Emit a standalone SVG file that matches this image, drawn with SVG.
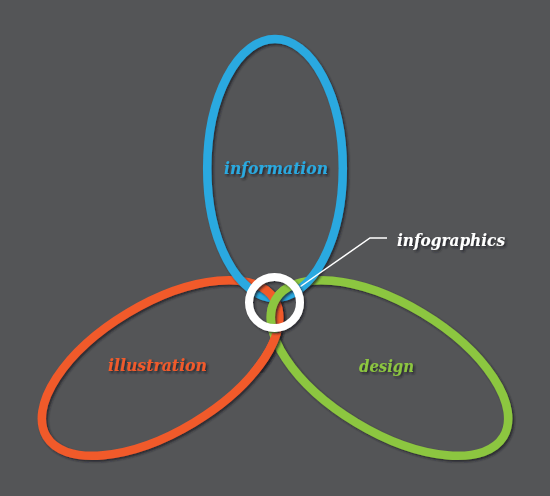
<svg xmlns="http://www.w3.org/2000/svg" width="550" height="496" viewBox="0 0 550 496">
  <defs>
    <filter id="sh" x="-10%" y="-10%" width="130%" height="130%">
      <feDropShadow dx="1.8" dy="1.8" stdDeviation="0.9" flood-color="#1e1e20" flood-opacity="0.75"/>
    </filter>
    <clipPath id="inCircle"><circle cx="274.5" cy="302.5" r="22"/></clipPath>
    <clipPath id="bottomCross"><rect x="250" y="333" width="50" height="40"/></clipPath>
    <style>
      .ring { fill: none; stroke-width: 8.5; filter: url(#sh); }
      .blue { stroke: #29a9e0; }
      .orange { stroke: #f15a2b; }
      .green { stroke: #8cc63f; }
      .lbl { font-family: "DejaVu Serif", "Liberation Serif", serif; font-style: italic; font-weight: bold; font-size: 16px; filter: url(#sh); }
    </style>
    <ellipse id="eBlue" cx="275" cy="168.5" rx="67.8" ry="129.5"/>
    <ellipse id="eOrange" cx="0" cy="0" rx="133" ry="64" transform="translate(160.5 368) rotate(-31)"/>
    <ellipse id="eGreen" cx="0" cy="0" rx="133" ry="64" transform="translate(389.5 368) rotate(31)"/>
  </defs>
  <rect width="550" height="496" fill="#545557"/>
  <g id="connectors">
    <use href="#eOrange" class="ring orange"/>
    <use href="#eGreen" class="ring green"/>
    <g clip-path="url(#bottomCross)"><use href="#eOrange" class="ring orange"/></g>
    <use href="#eBlue" class="ring blue"/>
    <g clip-path="url(#inCircle)">
      <use href="#eOrange" class="ring orange"/>
      <use href="#eGreen" class="ring green"/>
    </g>
    <polyline points="300.5,286.5 370,238 387,238" fill="none" stroke="#ffffff" stroke-width="1.5"/>
  </g>
  <g id="information">
    <text class="lbl" x="224" y="174" fill="#29a9e0" textLength="104" lengthAdjust="spacingAndGlyphs">information</text>
  </g>
  <g id="illustration">
    <text class="lbl" x="108" y="371" fill="#f15a2b" textLength="99" lengthAdjust="spacingAndGlyphs">illustration</text>
  </g>
  <g id="design">
    <text class="lbl" x="359" y="372" fill="#8cc63f" textLength="55" lengthAdjust="spacingAndGlyphs">design</text>
  </g>
  <g id="infographics">
    <circle cx="274.5" cy="302.5" r="25.5" fill="none" stroke="#ffffff" stroke-width="8" filter="url(#sh)"/>
    <text class="lbl" x="397" y="246" fill="#ffffff" textLength="108" lengthAdjust="spacingAndGlyphs">infographics</text>
  </g>
</svg>
